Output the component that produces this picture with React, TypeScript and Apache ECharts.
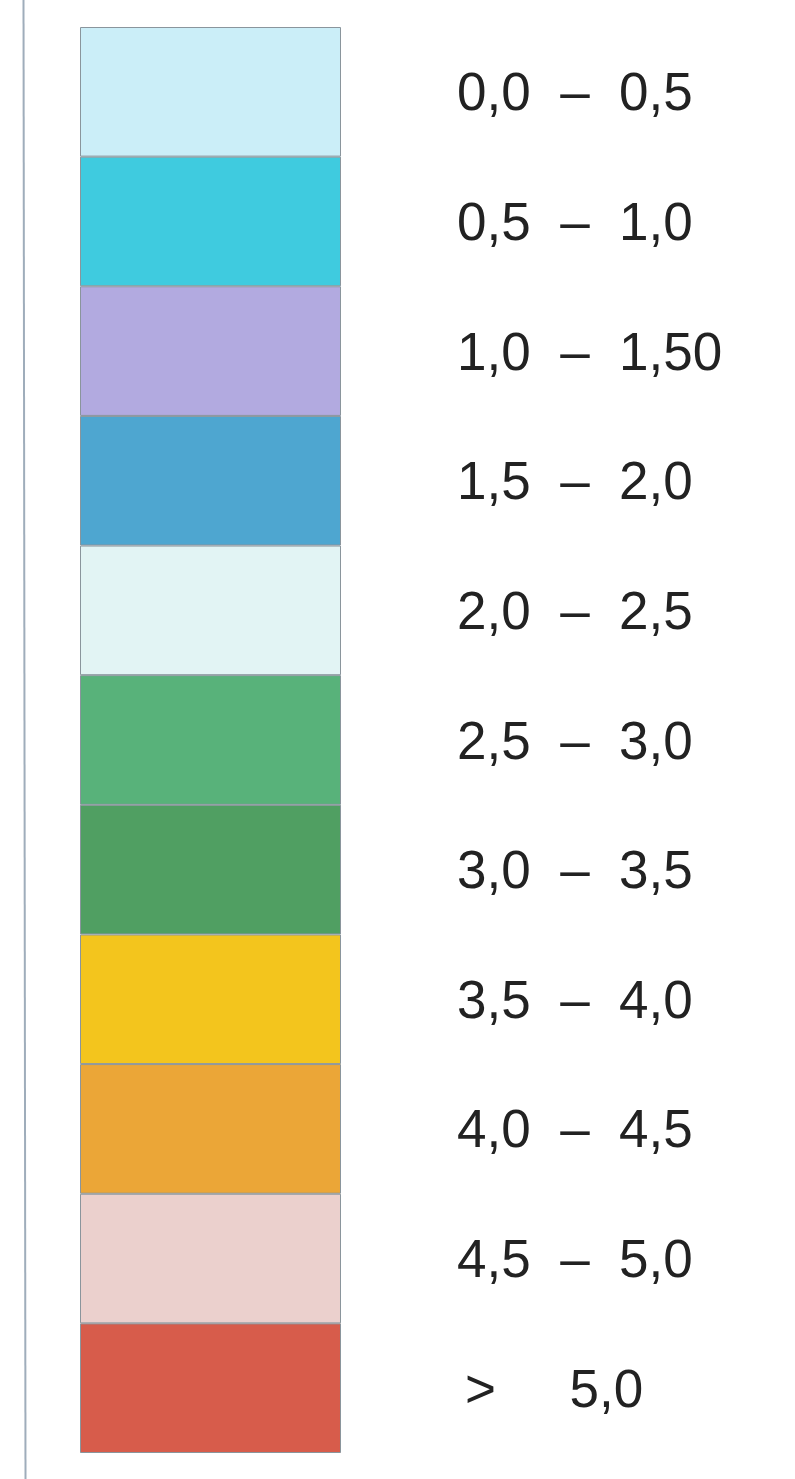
import React, { useEffect, useRef } from "react";
import * as echarts from "echarts";

const categories = [
  "0,0  –  0,5",
  "0,5  –  1,0",
  "1,0  –  1,50",
  "1,5  –  2,0",
  "2,0  –  2,5",
  "2,5  –  3,0",
  "3,0  –  3,5",
  "3,5  –  4,0",
  "4,0  –  4,5",
  "4,5  –  5,0",
  ">     5,0",
];
const values = [1, 1, 1, 1, 1, 1, 1, 1, 1, 1, 1];
const colors = [
  "#cbeef8",
  "#3fcbdf",
  "#b2aae0",
  "#4ea6d0",
  "#e2f4f4",
  "#58b27a",
  "#509f62",
  "#f3c51d",
  "#eba637",
  "#ebd0cd",
  "#d75c4b",
];

export default function App() {
  const ref = useRef<HTMLDivElement>(null);
  useEffect(() => {
    if (!ref.current) return;
    const chart = echarts.init(ref.current, undefined, { renderer: "svg" });
    chart.setOption({
      animation: false,
      backgroundColor: "#ffffff",
      grid: { left: 80, top: 27, width: 261, height: 1426, containLabel: false },
      xAxis: { type: "value", min: 0, max: 1, show: false },
      yAxis: {
        type: "category",
        data: categories,
        inverse: true,
        show: false,
      },
      graphic: [
        {
          type: "line",
          shape: { x1: 23.5, y1: 0, x2: 25.5, y2: 1479 },
          style: { stroke: "#9fadbb", lineWidth: 2 },
        },
      ],
      series: [
        {
          type: "bar",
          barWidth: "100%",
          barCategoryGap: 0,
          data: values.map((v, i) => ({
            value: v,
            itemStyle: { color: colors[i] },
            label: i === values.length - 1 ? { padding: [0, 0, 0, 8] } : {},
          })),
          itemStyle: { borderColor: "#8a959c", borderWidth: 1 },
          label: {
            show: true,
            position: "right",
            distance: 116,
            formatter: (p: any) => categories[p.dataIndex],
            fontFamily: "Liberation Sans, Arial, sans-serif",
            fontSize: 53,
            color: "#222222",
          },
        },
      ],
    });
    return () => chart.dispose();
  }, []);
  return (
    <div
      ref={ref}
      style={{ position: "absolute", left: 0, top: 0, width: 795, height: 1479 }}
    />
  );
}
